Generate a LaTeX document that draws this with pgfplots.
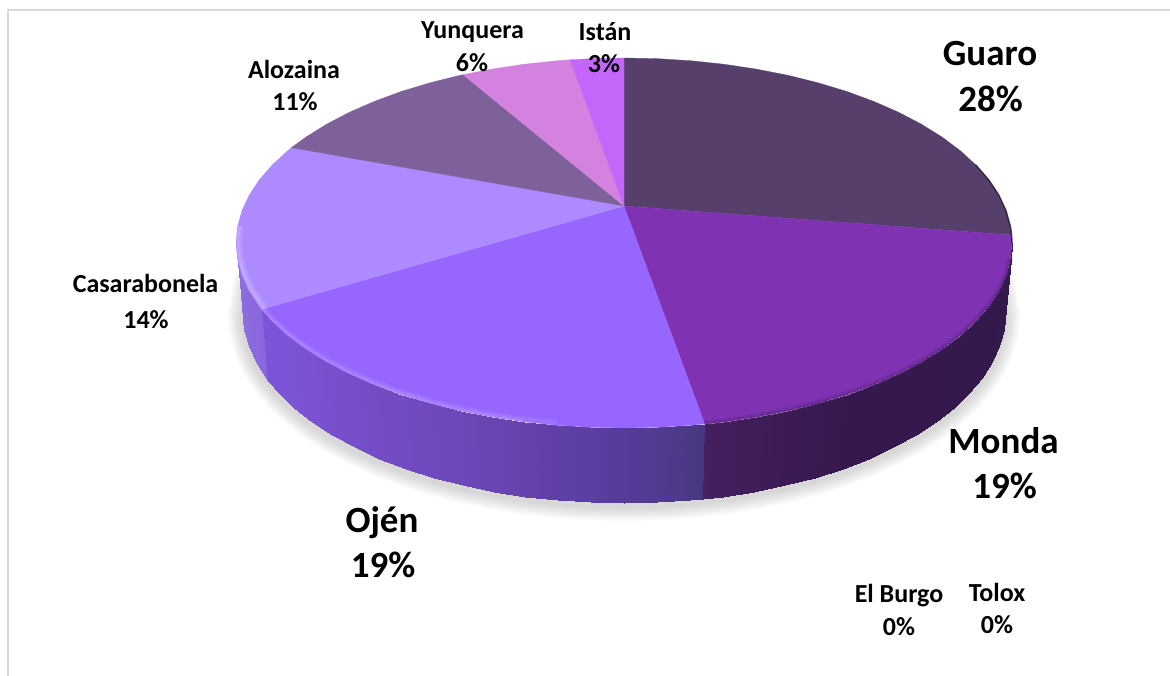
\documentclass[border=0pt]{standalone}
\usepackage{pgfplots}
\usepackage{fontspec}
\setmainfont{Carlito}
\pgfplotsset{compat=1.18}
\definecolor{cGuaro}{RGB}{86,64,107}
\definecolor{cMonda}{RGB}{127,51,179}
\definecolor{cOjen}{RGB}{150,102,255}
\definecolor{cCasa}{RGB}{173,138,255}
\definecolor{cAlo}{RGB}{126,97,155}
\definecolor{cYun}{RGB}{211,130,224}
\definecolor{cIst}{RGB}{196,102,250}
\definecolor{frameg}{RGB}{217,217,217}
\newcommand{\biglab}[3]{\node[anchor=base,inner sep=0pt,font=\fontsize{37}{40}\selectfont\bfseries] at (axis cs:#1,#2) {#3};}
\newcommand{\smalllab}[3]{\node[anchor=base,inner sep=0pt,font=\fontsize{26}{30}\selectfont\bfseries] at (axis cs:#1,#2) {#3};}
\pgfplotstableread{
x y
1000 280
1005 313
1003.6 329.6
999.2 346
992 362.2
982 378
969.3 393.3
954 408
936.1 422
915.8 435.1
893.4 447.4
868.9 458.5
842.5 468.6
814.5 477.5
785 485.2
754.3 491.5
722.6 496.5
690.2 500.1
657.2 502.3
624 503
590.8 502.3
557.8 500.1
525.4 496.5
493.7 491.5
463 485.2
433.5 477.5
405.5 468.6
379.1 458.5
354.6 447.4
332.2 435.1
311.9 422
294 408
278.7 393.3
266 378
256 362.2
248.8 346
244.4 329.6
243 313
248 280
}\bottomarc
\begin{document}
\begin{tikzpicture}
\useasboundingbox (0,0) rectangle (1170pt,676pt);
\begin{axis}[
  scale only axis, width=1170pt, height=676pt,
  xmin=0, xmax=1170, ymin=0, ymax=676, y dir=reverse,
  axis lines=none,
  point meta min=0, point meta max=100,
  colormap={side}{rgb255(0cm)=(146,112,226); rgb255(10cm)=(136,102,220); rgb255(20cm)=(124,84,216); rgb255(30cm)=(118,78,202); rgb255(40cm)=(106,70,180); rgb255(50cm)=(88,60,156); rgb255(60cm)=(71,54,127); rgb255(70cm)=(69,32,95); rgb255(80cm)=(54,24,78); rgb255(100cm)=(50,26,74)},
]
% frame
\addplot[frameg, line width=2pt] coordinates {(1170,10) (8,10) (8,676)};
% shadow
\addplot[black, opacity=0.024, line width=30pt, line join=round, line cap=round, yshift=-3pt] table[x=x,y=y] {\bottomarc};
\addplot[black, opacity=0.024, line width=26pt, line join=round, line cap=round, yshift=-3pt] table[x=x,y=y] {\bottomarc};
\addplot[black, opacity=0.024, line width=22pt, line join=round, line cap=round, yshift=-3pt] table[x=x,y=y] {\bottomarc};
\addplot[black, opacity=0.024, line width=18pt, line join=round, line cap=round, yshift=-3pt] table[x=x,y=y] {\bottomarc};
\addplot[black, opacity=0.024, line width=14pt, line join=round, line cap=round, yshift=-3pt] table[x=x,y=y] {\bottomarc};
\addplot[black, opacity=0.024, line width=10pt, line join=round, line cap=round, yshift=-3pt] table[x=x,y=y] {\bottomarc};
\addplot[black, opacity=0.024, line width=6pt, line join=round, line cap=round, yshift=-3pt] table[x=x,y=y] {\bottomarc};
% side walls
\addplot[surf, shader=interp, mesh/rows=2, point meta=\thisrow{m}] table {
x y m
236 243 0
237.5 259.1 3
241.9 275.1 5
249.2 290.9 8
261.8 309.3 10
243 313 0
244.4 329.6 3
248.8 346 5
256 362.2 8
268.3 381.1 10
};
\addplot[surf, shader=interp, mesh/rows=2, point meta=\thisrow{m}] table {
x y m
261.8 309.3 20
272.4 321.2 21
288 335.5 22
306.2 349.1 24
326.8 361.9 27
349.6 373.8 30
374.6 384.7 32
401.4 394.6 34
430 403.2 36
460 410.7 38
491.3 416.8 41
523.6 421.7 43
556.6 425.2 46
590.2 427.3 48
624 428 51
657.8 427.3 54
691.4 425.2 58
704.7 424 60
268.3 381.1 20
278.7 393.3 21
294 408 22
311.9 422 24
332.2 435.1 27
354.6 447.4 30
379.1 458.5 32
405.5 468.6 34
433.5 477.5 36
463 485.2 38
493.7 491.5 41
525.4 496.5 43
557.8 500.1 46
590.8 502.3 48
624 503 51
657.2 502.3 54
690.2 500.1 58
703.2 498.8 60
};
\addplot[surf, shader=interp, mesh/rows=2, point meta=\thisrow{m}] table {
x y m
704.7 424 70
724.4 421.7 72
756.7 416.8 74
788 410.7 76
818 403.2 78
846.6 394.6 80
873.4 384.7 82
898.4 373.8 83
921.2 361.9 85
941.8 349.1 87
960 335.5 88
975.6 321.2 90
988.6 306.3 92
998.8 290.9 94
1006.1 275.1 96
1010.5 259.1 98
1012 243 100
703.2 498.8 70
722.6 496.5 72
754.3 491.5 74
785 485.2 76
814.5 477.5 78
842.5 468.6 80
868.9 458.5 82
893.4 447.4 83
915.8 435.1 85
936.1 422 87
954 408 88
969.3 393.3 90
982 378 92
992 362.2 94
999.2 346 96
1003.6 329.6 98
1005 313 100
};
% top face wedges
\addplot[fill=cGuaro, draw=cGuaro, line width=0.3pt] coordinates {(624,206) (624,58) (657.8,58.7) (691.4,60.8) (724.4,64.3) (756.7,69.2) (788,75.3) (818,82.8) (846.6,91.4) (873.4,101.3) (898.4,112.2) (921.2,124.1) (941.8,136.9) (960,150.5) (975.6,164.8) (988.6,179.7) (998.8,195.1) (1006.1,210.9) (1010.5,226.9) (1011.6,235)} -- cycle;
\addplot[fill=cMonda, draw=cMonda, line width=0.3pt] coordinates {(624,206) (1011.6,235) (1012,243) (1010.5,259.1) (1006.1,275.1) (998.8,290.9) (988.6,306.3) (975.6,321.2) (960,335.5) (941.8,349.1) (921.2,361.9) (898.4,373.8) (873.4,384.7) (846.6,394.6) (818,403.2) (788,410.7) (756.7,416.8) (724.4,421.7) (704.7,424)} -- cycle;
\addplot[fill=cOjen, draw=cOjen, line width=0.3pt] coordinates {(624,206) (704.7,424) (691.4,425.2) (657.8,427.3) (624,428) (590.2,427.3) (556.6,425.2) (523.6,421.7) (491.3,416.8) (460,410.7) (430,403.2) (401.4,394.6) (374.6,384.7) (349.6,373.8) (326.8,361.9) (306.2,349.1) (288,335.5) (272.4,321.2) (261.8,309.3)} -- cycle;
\addplot[fill=cCasa, draw=cCasa, line width=0.3pt] coordinates {(624,206) (261.8,309.3) (259.4,306.3) (249.2,290.9) (241.9,275.1) (237.5,259.1) (236,243) (237.5,226.9) (241.9,210.9) (249.2,195.1) (259.4,179.7) (272.4,164.8) (288,150.5) (291.4,147.7)} -- cycle;
\addplot[fill=cAlo, draw=cAlo, line width=0.3pt] coordinates {(624,206) (291.4,147.7) (306.2,136.9) (326.8,124.1) (349.6,112.2) (374.6,101.3) (401.4,91.4) (430,82.8) (460,75.3) (463.1,74.7)} -- cycle;
\addplot[fill=cYun, draw=cYun, line width=0.3pt] coordinates {(624,206) (463.1,74.7) (491.3,69.2) (523.6,64.3) (556.6,60.8) (570,59.8)} -- cycle;
\addplot[fill=cIst, draw=cIst, line width=0.3pt] coordinates {(624,206) (570,59.8) (590.2,58.7) (624,58)} -- cycle;
% rim highlights and darkening
\addplot[color=cOjen!60!white, line width=5pt, opacity=0.22, yshift=2.5pt] coordinates {(261.8,309.3) (272.4,321.2) (288,335.5) (306.2,349.1) (326.8,361.9) (349.6,373.8) (374.6,384.7) (401.4,394.6) (430,403.2) (460,410.7) (491.3,416.8) (523.6,421.7) (556.6,425.2)};
\addplot[color=cOjen!60!white, line width=2.5pt, opacity=0.3, yshift=1.5pt] coordinates {(261.8,309.3) (272.4,321.2) (288,335.5) (306.2,349.1) (326.8,361.9) (349.6,373.8) (374.6,384.7) (401.4,394.6) (430,403.2) (460,410.7) (491.3,416.8) (523.6,421.7)};
\addplot[color=cCasa!55!white, line width=6pt, opacity=0.28, xshift=3pt, yshift=1pt] coordinates {(261.8,309.3) (249.2,290.9) (241.9,275.1) (237.5,259.1) (236,243) (237.5,226.9)};
\addplot[color=cCasa!55!white, line width=3pt, opacity=0.35, xshift=2pt, yshift=1pt] coordinates {(261.8,309.3) (249.2,290.9) (241.9,275.1) (237.5,259.1) (236,243) (237.5,226.9)};
\addplot[color=cMonda!65!black, line width=5pt, opacity=0.25, yshift=1pt] coordinates {(704.7,424) (724.4,421.7) (756.7,416.8) (788,410.7) (818,403.2) (846.6,394.6) (873.4,384.7) (898.4,373.8) (921.2,361.9) (941.8,349.1) (960,335.5) (975.6,321.2) (988.6,306.3) (998.8,290.9) (1006.1,275.1) (1010.5,259.1)};
\addplot[color=cMonda!65!black, line width=2.5pt, opacity=0.4] coordinates {(704.7,424) (724.4,421.7) (756.7,416.8) (788,410.7) (818,403.2) (846.6,394.6) (873.4,384.7) (898.4,373.8) (921.2,361.9) (941.8,349.1) (960,335.5) (975.6,321.2) (988.6,306.3) (998.8,290.9) (1006.1,275.1) (1010.5,259.1)};
\addplot[color=black!70!cGuaro, line width=1.5pt, opacity=0.7] coordinates {(975.6,164.8) (988.6,179.7) (998.8,195.1) (1006.1,210.9) (1010.5,226.9) (1011.6,235)(1012,243)};
% labels
\biglab{990}{66}{Guaro}
\biglab{990.5}{112}{28\%}
\biglab{1003.5}{453}{Monda}
\biglab{1004.5}{498}{19\%}
\biglab{382}{532}{Ojén}
\biglab{383}{577}{19\%}
\smalllab{145.5}{293}{Casarabonela}
\smalllab{146}{328}{14\%}
\smalllab{294}{79}{Alozaina}
\smalllab{295}{111}{11\%}
\smalllab{472.5}{39}{Yunquera}
\smalllab{472}{72}{6\%}
\smalllab{605}{41}{Istán}
\smalllab{604}{73}{3\%}
\smalllab{899}{602}{El Burgo}
\smalllab{899}{635}{0\%}
\smalllab{997}{601}{Tolox}
\smalllab{997}{633}{0\%}
\end{axis}
\end{tikzpicture}
\end{document}
